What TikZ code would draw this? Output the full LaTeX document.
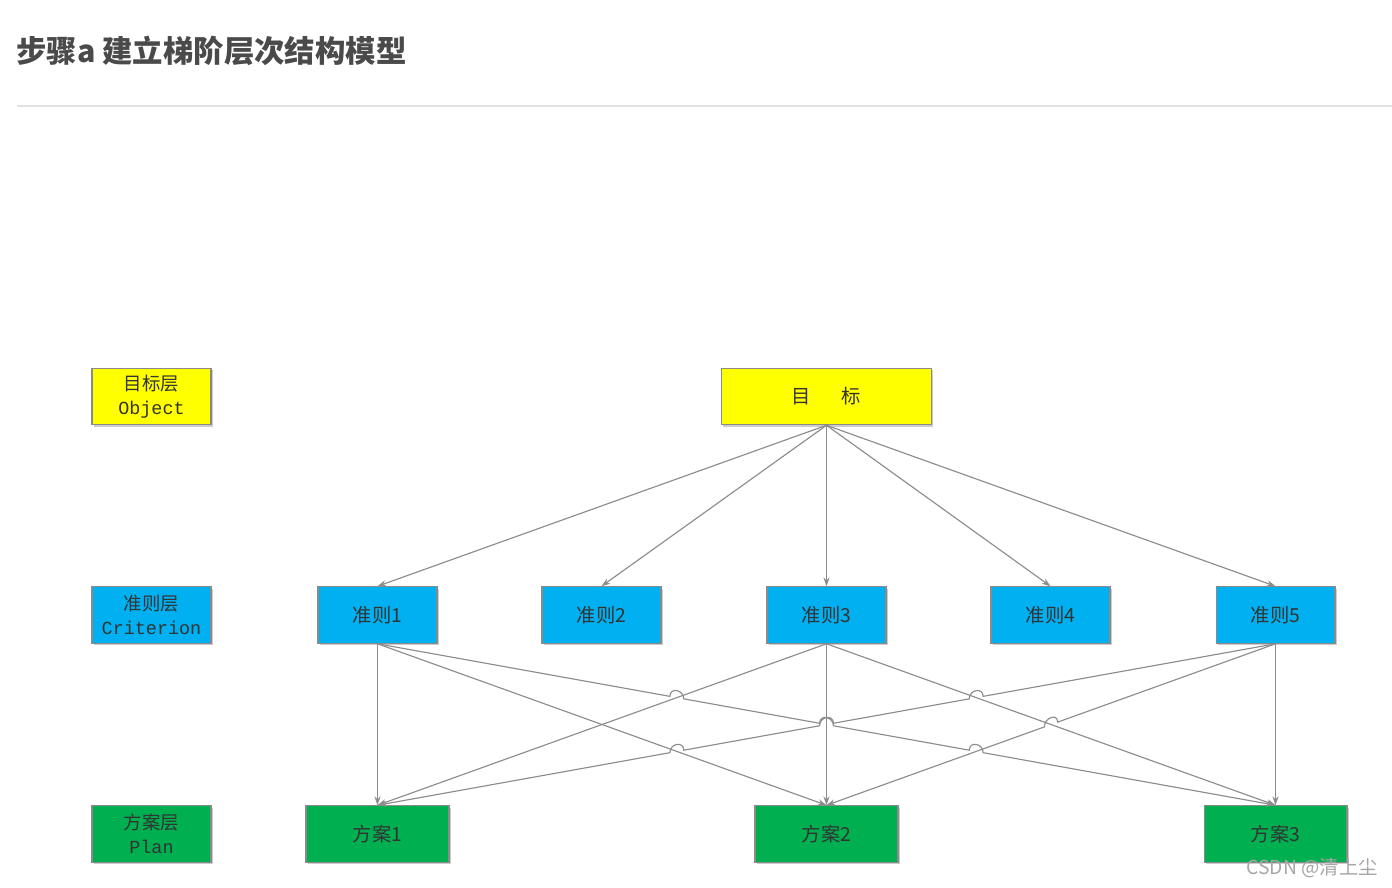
\documentclass[tikz,border=0pt]{standalone}
\usepackage{fontspec}
\setmainfont{Noto Sans CJK SC}
\setmonofont{Liberation Mono}
\usetikzlibrary{arrows.meta, calc, shadows}
\definecolor{objfill}{HTML}{FFFF00}
\definecolor{crifill}{HTML}{00B0F0}
\definecolor{planfill}{HTML}{00B050}
\definecolor{edge}{HTML}{8C8C8C}
\definecolor{boxline}{HTML}{8A8A8A}
\definecolor{titlegray}{HTML}{4A4A4A}
\definecolor{rulegray}{HTML}{E2E2E2}

\begin{document}
\begin{tikzpicture}[x=0.02cm, y=-0.02cm,
  box/.style={draw=boxline, line width=0.6pt, inner sep=0pt, minimum height=1.13cm,
              text=black!80, font=\fontsize{11}{13}\selectfont,
              drop shadow={shadow xshift=1.1pt, shadow yshift=-1.1pt, fill=black, opacity=0.2}},
  lbl/.style={box, minimum width=2.38cm, align=center, font=\fontsize{10.5}{13.5}\selectfont},
  link/.style={draw=edge, line width=0.65pt, -{Stealth[length=5pt, width=3.5pt]}}
]
\useasboundingbox (0,0) rectangle (1392,887);

% heading and rule
\node[anchor=west, inner sep=0pt, text=titlegray, font=\fontsize{17.3}{20}\selectfont\bfseries]
  (title) at (16,51) {步骤a 建立梯阶层次结构模型};
\draw[rulegray, line width=0.6pt] (17,106) -- (1392,106);

% layer labels on the left
\node[lbl, fill=objfill]  (lobj)  at (151.5,396.5) {目标层\\\texttt{Object}};
\node[lbl, fill=crifill]  (lcri)  at (151.5,615)   {准则层\\\texttt{Criterion}};
\node[lbl, fill=planfill] (lplan) at (151.5,834)   {方案层\\\texttt{Plan}};

% goal
\node[box, fill=objfill, minimum width=4.2cm] (goal) at (826.5,396.5) {目\hspace{1.6em}标};

% criteria
\node[box, fill=crifill, minimum width=2.38cm] (c1) at (377.5,615)  {准则1};
\node[box, fill=crifill, minimum width=2.38cm] (c2) at (601.5,615)  {准则2};
\node[box, fill=crifill, minimum width=2.38cm] (c3) at (826.5,615)  {准则3};
\node[box, fill=crifill, minimum width=2.38cm] (c4) at (1050.5,615) {准则4};
\node[box, fill=crifill, minimum width=2.38cm] (c5) at (1275.5,615) {准则5};

% plans
\node[box, fill=planfill, minimum width=2.86cm] (p1) at (377.5,834)  {方案1};
\node[box, fill=planfill, minimum width=2.86cm] (p2) at (826.5,834)  {方案2};
\node[box, fill=planfill, minimum width=2.86cm] (p3) at (1275.5,834) {方案3};

% goal -> criteria
\foreach \i in {1,...,5}
  \draw[link] (goal.south) -- (c\i.north);

% criteria -> plans, plain lines
\draw[link] (c1.south) -- (p1.north);
\draw[link] (c1.south) -- (p2.north);
\draw[link] (c3.south) -- (p1.north);
\draw[link] (c3.south) -- (p2.north);
\draw[link] (c3.south) -- (p3.north);
\draw[link] (c5.south) -- (p3.north);

% crossing points where a line hops over another
\coordinate (ha) at ($(c1.south)!0.3333!(p3.north)$);
\coordinate (hb) at ($(c1.south)!0.5!(p3.north)$);
\coordinate (hc) at ($(c1.south)!0.6667!(p3.north)$);
\coordinate (hd) at ($(c5.south)!0.3333!(p1.north)$);
\coordinate (he) at ($(c5.south)!0.6667!(p1.north)$);
\coordinate (hf) at ($(c5.south)!0.5!(p2.north)$);

% criteria -> plans, lines with hops
\draw[link] (c1.south)
  -- ($(ha)!4pt!(c1.south)$) .. controls +(0,5.3pt) and +(0,5.3pt) .. ($(ha)!4pt!(p3.north)$)
  -- ($(hb)!4pt!(c1.south)$) .. controls +(0,5.3pt) and +(0,5.3pt) .. ($(hb)!4pt!(p3.north)$)
  -- ($(hc)!4pt!(c1.south)$) .. controls +(0,5.3pt) and +(0,5.3pt) .. ($(hc)!4pt!(p3.north)$)
  -- (p3.north);
\draw[link] (c5.south)
  -- ($(hd)!4pt!(c5.south)$) .. controls +(0,5.3pt) and +(0,5.3pt) .. ($(hd)!4pt!(p1.north)$)
  -- ($(hb)!4pt!(c5.south)$) .. controls +(0,5.3pt) and +(0,5.3pt) .. ($(hb)!4pt!(p1.north)$)
  -- ($(he)!4pt!(c5.south)$) .. controls +(0,5.3pt) and +(0,5.3pt) .. ($(he)!4pt!(p1.north)$)
  -- (p1.north);
\draw[link] (c5.south)
  -- ($(hf)!4pt!(c5.south)$) .. controls +(0,5.3pt) and +(0,5.3pt) .. ($(hf)!4pt!(p2.north)$)
  -- (p2.north);

% watermark
\node[anchor=east, inner sep=0pt, text=black!35, font=\fontsize{11}{13}\selectfont]
  (mark) at (1378,868) {CSDN @清上尘};
\end{tikzpicture}
\end{document}
